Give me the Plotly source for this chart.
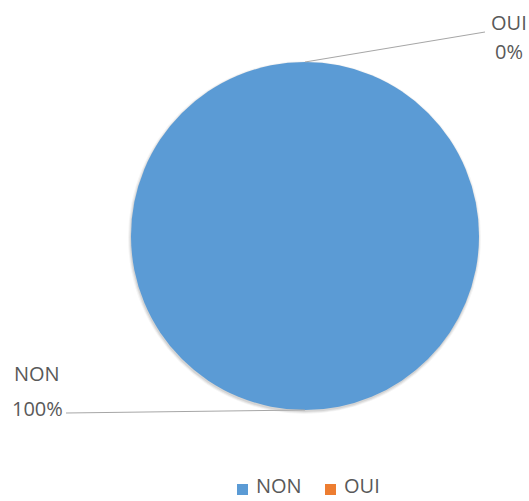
import math
import plotly.graph_objects as go

labels = ["NON", "OUI"]
values = [100, 0]
pct_text = ["100%", "0%"]
colors = ["#5b9bd5", "#ed7d31"]

W, H = 529, 501
dom_x = [131 / W, 479 / W]
dom_y = [(H - 410) / H, (H - 62) / H]
FONT = dict(family="Open Sans, Lato, sans-serif", size=20, color="#595959")

fig = go.Figure()
fig.add_trace(go.Pie(
    labels=labels, values=values, sort=False, direction="clockwise", rotation=0,
    marker=dict(colors=colors, line=dict(width=0)),
    textinfo="none", hoverinfo="label+percent",
    domain=dict(x=dom_x, y=dom_y), showlegend=False,
))

# pie geometry in pixels
cx = (dom_x[0] + dom_x[1]) / 2 * W
cy = H - (dom_y[0] + dom_y[1]) / 2 * H
r = min((dom_x[1] - dom_x[0]) * W, (dom_y[1] - dom_y[0]) * H) / 2

# soft shadow behind the pie
for k, a in ((3, 0.04), (2, 0.06), (1, 0.08)):
    fig.add_shape(type="circle", xref="paper", yref="paper", layer="below",
                  x0=(cx - r - k) / W, x1=(cx + r + k - 1) / W,
                  y0=1 - (cy + r + k + 1) / H, y1=1 - (cy - r - k + 2) / H,
                  line=dict(width=0), fillcolor=f"rgba(0,0,0,{a})")

total = sum(values)
label_anchor = {"NON": (66, 413, 37, 373, 408), "OUI": (485, 32, 509, 22, 52)}
cum = 0
for lab, v, pt in zip(labels, values, pct_text):
    mid = (cum + v / 2) / total * 2 * math.pi
    cum += v
    px = cx + r * math.sin(mid)
    py = cy - r * math.cos(mid)
    ex, ey, tx, ty1, ty2 = label_anchor[lab]
    fig.add_shape(type="line", xref="paper", yref="paper",
                  x0=px / W, y0=1 - py / H, x1=ex / W, y1=1 - ey / H,
                  line=dict(color="#a6a6a6", width=1))
    for txt, ty in ((lab, ty1), (pt, ty2)):
        fig.add_annotation(x=tx / W, y=1 - ty / H, xref="paper", yref="paper",
                           text=txt, showarrow=False, xanchor="center", yanchor="middle",
                           font=FONT)

# compact legend (square swatch + label)
legend_x = {"NON": 237, "OUI": 325}
for lab, c in zip(labels, colors):
    x0 = legend_x[lab]
    fig.add_shape(type="rect", xref="paper", yref="paper",
                  x0=x0 / W, x1=(x0 + 11) / W, y0=1 - 495 / H, y1=1 - 484 / H,
                  line=dict(width=0), fillcolor=c)
    fig.add_annotation(x=(x0 + 17) / W, y=0.0, xref="paper", yref="paper",
                       text=lab, showarrow=False, xanchor="left", yanchor="bottom",
                       font=FONT)

fig.update_layout(
    width=W, height=H, margin=dict(l=0, r=0, t=0, b=0),
    paper_bgcolor="white", plot_bgcolor="white", showlegend=False,
)
fig.write_html("out.html", config={"displayModeBar": False},
               post_script="document.body.style.margin='0';")
